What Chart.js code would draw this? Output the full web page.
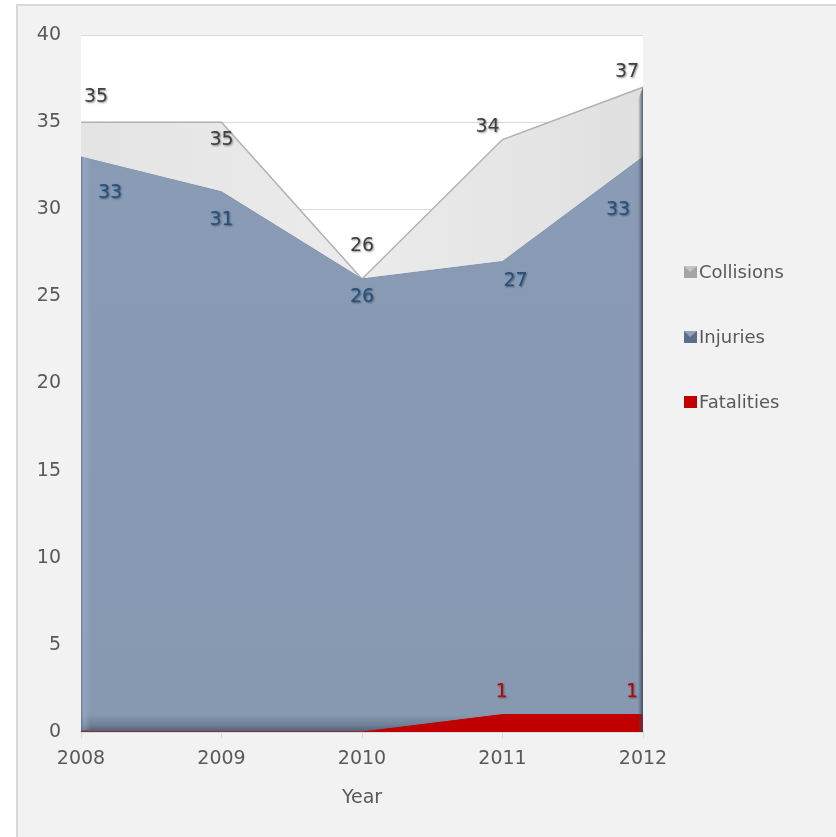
<!DOCTYPE html>
<html>
<head>
<meta charset="utf-8">
<title>Collisions, Injuries and Fatalities by Year</title>
<script src="https://cdn.jsdelivr.net/npm/chart.js@4.4.1/dist/chart.umd.min.js"></script>
<style>
    body { margin: 0; background: #ffffff; overflow: hidden; }
    #frame {
        position: absolute; left: 16px; top: 4px; width: 900px; height: 900px;
        background: #f2f2f2; border: 2px solid #d9d9d9;
    }
    #trafficChart { position: absolute; left: 0; top: 0; }
</style>
</head>
<body>
<div id="frame"></div>
<canvas id="trafficChart" width="836" height="837"></canvas>
<script>
const years = ["2008", "2009", "2010", "2011", "2012"];
const collisions = [35, 35, 26, 34, 37];
const injuries = [33, 31, 26, 27, 33];
const fatalities = [0, 0, 0, 1, 1];
const yTicks = [0, 5, 10, 15, 20, 25, 30, 35, 40];

const FONT = "'DejaVu Sans', Lato, sans-serif";
const TEXT_GREY = "#595959";

// value label nudges per series (pixels), so labels sit off the area edges
const labelNudge = {
    Collisions: [[15, -25], [0, 18], [0, -33], [-15, -12], [-16, -15]],
    Injuries: [[29, 36], [0, 28], [0, 18], [13, 20], [-25, 53]],
    Fatalities: [[0, -23], [0, -23], [0, -23], [-1, -23], [-11, -23]]
};
const labelColor = { Collisions: "#404040", Injuries: "#24527f", Fatalities: "#c00000" };
const legendColor = { Collisions: "#a5a5a5", Injuries: "#5b6f8c", Fatalities: "#c00000" };

function injuryFill(ctx) {
    const area = ctx.chart.chartArea;
    if (!area) return "#8a9cb5";
    const g = ctx.chart.ctx.createLinearGradient(0, area.top, 0, area.bottom);
    g.addColorStop(0, "#8a9cb6");
    g.addColorStop(0.975, "#8798b1");
    g.addColorStop(0.99, "#6f7f97");
    g.addColorStop(1, "#515e72");
    return g;
}

function collisionFill(ctx) {
    const area = ctx.chart.chartArea;
    if (!area) return "#e6e6e6";
    const g = ctx.chart.ctx.createLinearGradient(area.left, 0, area.right, 0);
    g.addColorStop(0, "#e4e4e4");
    g.addColorStop(0.5, "#ebebeb");
    g.addColorStop(1, "#e0e0e0");
    return g;
}

// white plot background
const plotBackground = {
    id: "plotBackground",
    beforeDraw(chart) {
        const { ctx, chartArea: a } = chart;
        ctx.save();
        ctx.fillStyle = "#ffffff";
        ctx.fillRect(a.left, a.top, a.right - a.left, a.bottom - a.top);
        ctx.restore();
    }
};

// dark edge at the last year and a light one at the first, gives the areas some depth
const edgeShade = {
    id: "edgeShade",
    afterDatasetsDraw(chart) {
        const { ctx, chartArea: a } = chart;
        const meta = chart.getDatasetMeta(0);
        const last = meta.data[meta.data.length - 1];
        const inj = chart.getDatasetMeta(1).data[0];
        ctx.save();
        const g = ctx.createLinearGradient(last.x - 5, 0, last.x, 0);
        g.addColorStop(0, "rgba(60,70,85,0)");
        g.addColorStop(1, "rgba(60,70,85,0.85)");
        ctx.fillStyle = g;
        ctx.beginPath();
        ctx.moveTo(last.x, last.y);
        ctx.lineTo(last.x, a.bottom);
        ctx.lineTo(last.x - 5, a.bottom);
        ctx.lineTo(last.x - 5, last.y + 12);
        ctx.closePath();
        ctx.fill();

        const h = ctx.createLinearGradient(inj.x, 0, inj.x + 10, 0);
        h.addColorStop(0, "rgba(90,105,130,0.7)");
        h.addColorStop(0.3, "rgba(170,190,215,0.35)");
        h.addColorStop(1, "rgba(170,190,215,0)");
        ctx.fillStyle = h;
        ctx.fillRect(inj.x, inj.y, 10, a.bottom - inj.y - 2);
        ctx.restore();
    }
};

// value labels with a soft drop shadow
const valueLabels = {
    id: "valueLabels",
    afterDatasetsDraw(chart) {
        const ctx = chart.ctx;
        ctx.save();
        ctx.font = "19px " + FONT;
        ctx.textAlign = "center";
        ctx.textBaseline = "middle";
        ctx.shadowColor = "rgba(0,0,0,0.45)";
        ctx.shadowOffsetX = 1;
        ctx.shadowOffsetY = 1;
        ctx.shadowBlur = 2;
        chart.data.datasets.forEach((ds, i) => {
            const meta = chart.getDatasetMeta(i);
            meta.data.forEach((pt, j) => {
                const v = ds.data[j];
                if (!v) return;
                const n = labelNudge[ds.label][j];
                ctx.fillStyle = labelColor[ds.label];
                ctx.fillText(String(v), pt.x + n[0], pt.y + n[1]);
            });
        });
        ctx.restore();
    }
};

// legend to the right of the plot
const sideLegend = {
    id: "sideLegend",
    afterDraw(chart) {
        const { ctx, chartArea: a } = chart;
        const x = a.right + 41;
        let y = a.top + 237;
        ctx.save();
        ctx.font = "18px " + FONT;
        ctx.textBaseline = "middle";
        chart.data.datasets.forEach(ds => {
            ctx.fillStyle = legendColor[ds.label];
            ctx.fillRect(x, y - 6, 13, 12);
            if (ds.label !== "Fatalities") {
                ctx.fillStyle = "rgba(255,255,255,0.35)";
                ctx.beginPath();
                ctx.moveTo(x, y - 6);
                ctx.lineTo(x + 13, y - 6);
                ctx.lineTo(x + 6, y);
                ctx.closePath();
                ctx.fill();
            }
            ctx.fillStyle = TEXT_GREY;
            ctx.fillText(ds.label, x + 15, y + 1);
            y += 65;
        });
        ctx.restore();
    }
};

new Chart(document.getElementById("trafficChart"), {
    type: "line",
    data: {
        labels: years,
        datasets: [
            {
                label: "Collisions",
                data: collisions,
                order: 3,
                fill: "origin",
                backgroundColor: collisionFill,
                borderColor: "#b0b0b0",
                borderWidth: 1.5,
                pointRadius: 0,
                tension: 0
            },
            {
                label: "Injuries",
                data: injuries,
                order: 2,
                fill: "origin",
                backgroundColor: injuryFill,
                borderColor: "#8194ae",
                borderWidth: 1,
                pointRadius: 0,
                tension: 0
            },
            {
                label: "Fatalities",
                data: fatalities,
                order: 1,
                fill: "origin",
                backgroundColor: "#c00000",
                borderColor: "#c00000",
                borderWidth: 1,
                pointRadius: 0,
                tension: 0
            }
        ]
    },
    options: {
        responsive: false,
        animation: false,
        layout: { padding: { left: 17, top: 35, right: 193, bottom: 0 } },
        plugins: {
            legend: { display: false },
            tooltip: { enabled: false }
        },
        scales: {
            x: {
                offset: false,
                grid: { drawOnChartArea: false, drawTicks: true, tickLength: 6, color: "#d9d9d9" },
                border: { color: "#d9d9d9", width: 2 },
                ticks: { color: TEXT_GREY, font: { family: FONT, size: 19 }, padding: 10, maxRotation: 0 },
                title: {
                    display: true,
                    text: "Year",
                    color: TEXT_GREY,
                    font: { family: FONT, size: 19 },
                    padding: { top: 0, bottom: 28 }
                },
                afterFit(scale) { scale.height = 105; }
            },
            y: {
                min: 0,
                max: 40,
                afterBuildTicks(scale) { scale.ticks = yTicks.map(v => ({ value: v })); },
                grid: { color: "#d9d9d9", drawTicks: false },
                border: { display: false },
                ticks: { color: TEXT_GREY, font: { family: FONT, size: 19 }, padding: 20 },
                afterFit(scale) { scale.width = 64; }
            }
        }
    },
    plugins: [plotBackground, edgeShade, valueLabels, sideLegend]
});
</script>
</body>
</html>
